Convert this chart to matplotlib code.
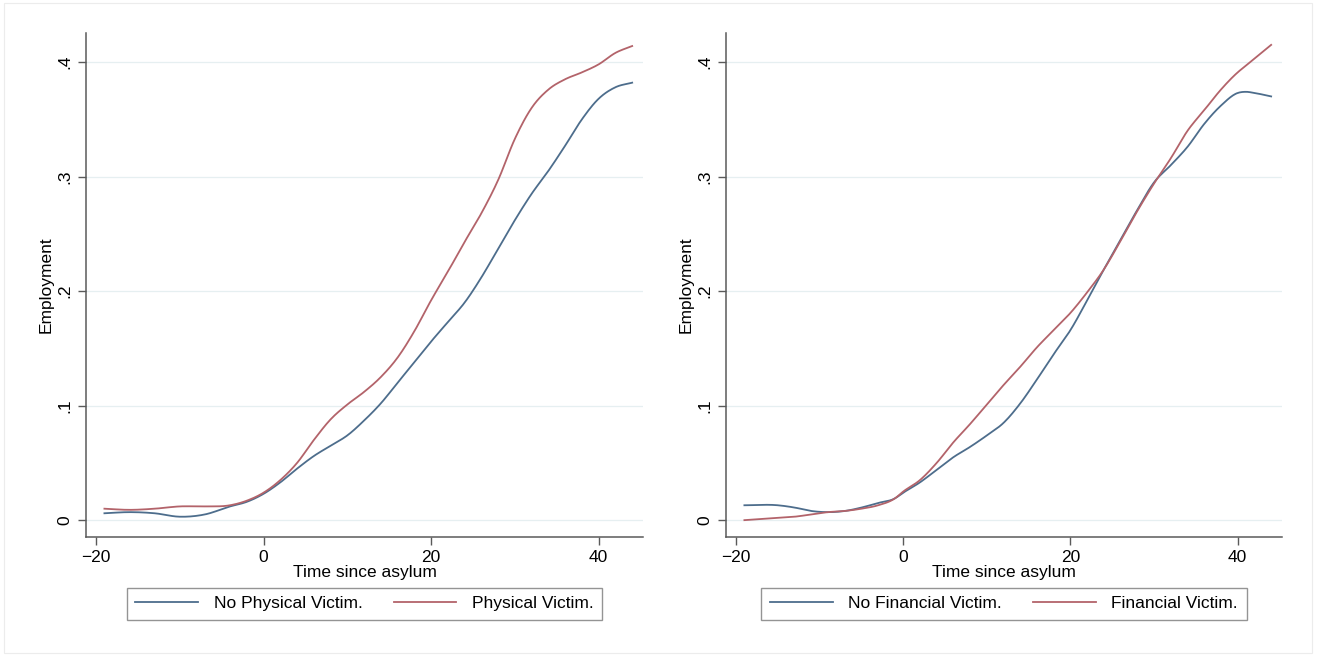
import numpy as np
import matplotlib.pyplot as plt
from matplotlib.patches import Rectangle

plt.rcParams['font.family'] = ['Liberation Sans', 'DejaVu Sans']

# Time since asylum (grid on which the smoothed curves are read)
time_phys = [-19, -16, -13, -10, -7, -4, -2, 0, 2, 4, 6, 8, 10, 12, 14, 16, 18,
             20, 22, 24, 26, 28, 30, 32, 34, 36, 38, 40, 42, 44]
no_physical = [0.006, 0.007, 0.006, 0.003, 0.005, 0.012, 0.016, 0.023, 0.033, 0.045,
               0.056, 0.065, 0.074, 0.087, 0.102, 0.120, 0.138, 0.156, 0.173, 0.190,
               0.212, 0.237, 0.262, 0.285, 0.305, 0.327, 0.350, 0.368, 0.378, 0.382]
physical = [0.010, 0.009, 0.010, 0.012, 0.012, 0.013, 0.017, 0.024, 0.035, 0.050,
            0.070, 0.088, 0.101, 0.112, 0.125, 0.142, 0.165, 0.192, 0.217, 0.243,
            0.268, 0.297, 0.333, 0.360, 0.376, 0.385, 0.391, 0.398, 0.408, 0.414]

time_fin = [-19, -15, -13, -11, -9, -7, -5, -3, -1, 0, 2, 4, 6, 8, 10, 12, 14, 16,
            18, 20, 22, 24, 26, 28, 30, 32, 34, 36, 38, 40, 41, 42, 44]
no_financial = [0.013, 0.013, 0.011, 0.008, 0.007, 0.008, 0.011, 0.015, 0.019, 0.024,
                0.033, 0.044, 0.055, 0.064, 0.074, 0.085, 0.102, 0.123, 0.145, 0.166,
                0.192, 0.219, 0.245, 0.271, 0.295, 0.310, 0.326, 0.346, 0.362, 0.373,
                0.374, 0.373, 0.370]
financial = [0.000, 0.002, 0.003, 0.005, 0.007, 0.008, 0.010, 0.013, 0.019, 0.025,
             0.035, 0.050, 0.068, 0.084, 0.101, 0.118, 0.134, 0.151, 0.166, 0.181,
             0.199, 0.219, 0.244, 0.270, 0.294, 0.316, 0.340, 0.358, 0.376, 0.391,
             0.397, 0.403, 0.415]

x_ticks = [-20, 0, 20, 40]
y_ticks = [0, 0.1, 0.2, 0.3, 0.4]
y_labels = ['0', '.1', '.2', '.3', '.4']

BLUE = '#4d6d8c'
RED = '#b3636a'
FS = 12.5


def smooth(x, y, n=400):
    # cubic Hermite resampling so the curves look like a smoother output
    x = np.asarray(x, float)
    y = np.asarray(y, float)
    xs = np.linspace(x[0], x[-1], n)
    d = np.gradient(y, x)
    idx = np.clip(np.searchsorted(x, xs) - 1, 0, len(x) - 2)
    h = x[idx + 1] - x[idx]
    t = (xs - x[idx]) / h
    h00 = 2 * t**3 - 3 * t**2 + 1
    h10 = t**3 - 2 * t**2 + t
    h01 = -2 * t**3 + 3 * t**2
    h11 = t**3 - t**2
    ys = h00 * y[idx] + h10 * h * d[idx] + h01 * y[idx + 1] + h11 * h * d[idx + 1]
    return xs, ys


fig = plt.figure(figsize=(13.27, 6.55), dpi=100)
fig.add_artist(Rectangle((0.003, 0.003), 0.986, 0.992, transform=fig.transFigure,
                         fill=False, edgecolor='#ececec', linewidth=0.8))

panels = [
    ([0.0648, 0.180, 0.4198, 0.7695], time_phys, no_physical, physical,
     'No Physical Victim.', 'Physical Victim.'),
    ([0.5471, 0.180, 0.4190, 0.7695], time_fin, no_financial, financial,
     'No Financial Victim.', 'Financial Victim.'),
]

for rect, t, s0, s1, lab0, lab1 in panels:
    ax = fig.add_axes(rect)
    xs, ys = smooth(t, s0)
    ax.plot(xs, ys, color=BLUE, linewidth=1.3, label=lab0)
    xs, ys = smooth(t, s1)
    ax.plot(xs, ys, color=RED, linewidth=1.3, label=lab1)

    ax.set_xlim(-21.2, 45.3)
    ax.set_ylim(-0.0148, 0.4253)
    ax.set_xticks(x_ticks)
    ax.set_yticks(y_ticks)
    ax.set_yticklabels(y_labels, rotation=90, va='center')
    ax.grid(axis='y', color='#e6eff1', linewidth=0.9)
    ax.set_axisbelow(True)
    for side in ('top', 'right'):
        ax.spines[side].set_visible(False)
    for side in ('left', 'bottom'):
        ax.spines[side].set_color('#5a5a5a')
        ax.spines[side].set_linewidth(1.1)
    ax.tick_params(colors='#5a5a5a', labelcolor='black', labelsize=FS, length=6, width=1)
    ax.set_xlabel('Time since asylum', fontsize=FS, labelpad=0)
    ax.set_ylabel('Employment', fontsize=FS, labelpad=3)

    leg = ax.legend(loc='upper center', bbox_to_anchor=(0.5, -0.1), ncol=2,
                    frameon=True, fancybox=False, fontsize=FS, handlelength=3.6,
                    columnspacing=1.8, handletextpad=0.9, borderpad=0.5,
                    borderaxespad=0)
    leg.get_frame().set_edgecolor('#7a7a7a')
    leg.get_frame().set_linewidth(1.0)

fig.savefig('out.png', dpi=100, facecolor='white')
